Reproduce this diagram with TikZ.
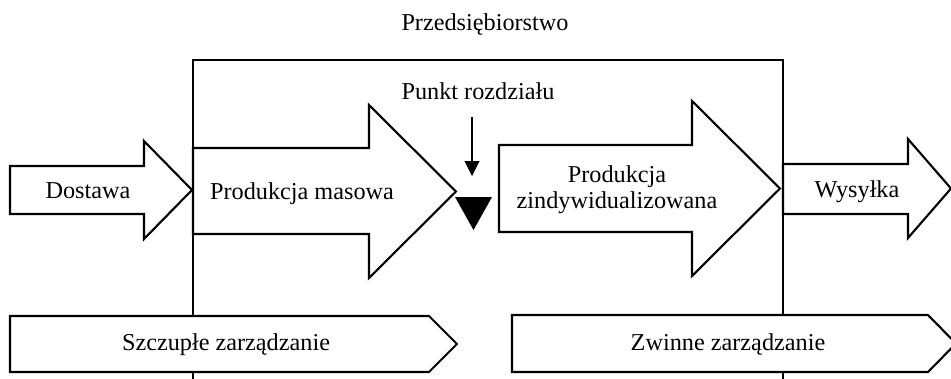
\documentclass[tikz,border=0pt]{standalone}
\usepackage{fontspec}
\setmainfont{Liberation Serif}
\usetikzlibrary{arrows.meta}

\begin{document}
\begin{tikzpicture}[
  x=0.02cm, y=-0.02cm,
  line width=1.2pt,
  every node/.style={font=\fontsize{13.8}{14.8}\selectfont, align=center}
]
\useasboundingbox (0,0) rectangle (951,379);

% enterprise frame, open at the bottom
\node (firm) at (485,24) {Przedsiębiorstwo};
\draw (193,379) -- (193,60) -- (783,60) -- (783,379);

% block arrows: (tail x, shaft top, shaft bottom, head x, head top, head bottom, tip x)
\def\blockarrow#1#2#3#4#5#6#7{%
  \filldraw[fill=white] (#1,#2) -- (#4,#2) -- (#4,#5) -- (#7,{(#5+#6)/2})
    -- (#4,#6) -- (#4,#3) -- (#1,#3) -- cycle;
}
\blockarrow{10}{166}{214}{144}{141}{239}{192}
\blockarrow{193}{148}{234}{369}{105}{278}{456}
\blockarrow{499}{145}{232}{692}{101}{276}{780}
\blockarrow{783}{164}{214}{908}{139}{238}{951}

\node (supply) at (88,191) {Dostawa};
\node (mass) at (302,194) {Produkcja masowa};
\node (custom) at (617,190) {Produkcja\\zindywidualizowana};
\node (ship) at (857,192) {Wysyłka};

% decoupling point
\node (punkt) at (478,91) {Punkt rozdziału};
\fill (455,197) -- (492,197) -- (473.5,230) -- cycle;
\coordinate (pin) at (472,117);
\coordinate (drop) at (472,176);
\draw[line width=0.6pt, -{Triangle[length=0.3cm, width=0.3cm]}] (pin) -- (drop);

% management banners: (left, top, bottom, shaft end, tip x)
\def\banner#1#2#3#4#5{%
  \filldraw[fill=white] (#1,#2) -- (#4,#2) -- (#5,{(#2+#3)/2}) -- (#4,#3)
    -- (#1,#3) -- cycle;
}
\banner{10}{316}{372}{429}{457}
\banner{512}{315}{372}{928}{956}

\node (lean) at (226,345) {Szczupłe zarządzanie};
\node (agile) at (728,344) {Zwinne zarządzanie};
\end{tikzpicture}
\end{document}
